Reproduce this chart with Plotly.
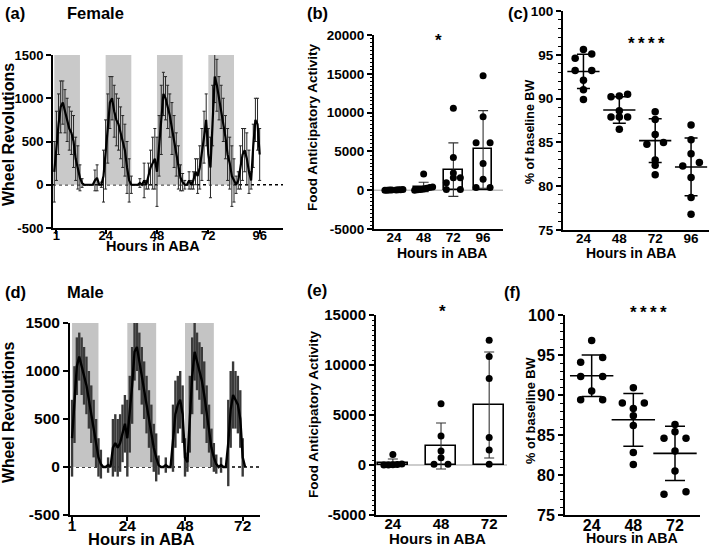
import plotly.graph_objects as go

# ---------------- data ----------------
# (a) Female wheel running, hourly mean and SD
fem_hours = list(range(0, 97))
fem_wheel_mean = [150, 450, 700, 900, 950, 850, 750, 650, 600, 500, 300, 200, 80, 20, 0, 0, 0, 0, 0, 50,
                  80, 0, 0, 100, 350, 650, 950, 1000, 850, 750, 700, 600, 500, 400, 200, 50, 0, 0, 0, 0,
                  20, 0, 50, 0, 100, 200, 250, 300, 150, 450, 750, 1050, 1000, 900, 800, 650, 500, 350, 200, 80,
                  30, 0, 0, 50, 0, 50, 150, 100, 200, 350, 550, 750, 350, 200, 800, 1250, 1150, 1000, 900, 750,
                  550, 350, 250, 100, 50, 0, 50, 200, 350, 400, 300, 150, 50, 450, 750, 700, 350]
fem_wheel_sd = [350, 400, 350, 300, 250, 250, 250, 250, 250, 300, 250, 250, 150, 50, 0, 0, 0, 0, 0, 120,
                150, 0, 30, 300, 400, 400, 300, 250, 300, 300, 300, 300, 300, 300, 300, 250, 100, 0, 0, 0,
                50, 0, 200, 50, 150, 200, 300, 350, 400, 350, 400, 250, 250, 250, 250, 300, 300, 250, 250, 150,
                100, 50, 0, 100, 50, 100, 150, 200, 250, 300, 300, 300, 300, 350, 350, 300, 300, 250, 250, 250,
                250, 300, 300, 350, 250, 100, 100, 250, 300, 250, 300, 250, 100, 250, 250, 300, 300]
fem_dark_start = [0, 24, 48, 72]
fem_dark_end = [12, 36, 60, 84]
fem_time_ticks = [1, 24, 48, 72, 96]

# (d) Male wheel running, hourly mean and SD
male_hours = list(range(1, 74))
male_wheel_mean = [300, 650, 1050, 1150, 1050, 950, 850, 700, 550, 400, 250, 100, 30, 0, 0, 20, 0, 200, 250, 200,
                   250, 350, 450, 300, 550, 850, 1200, 1250, 1100, 950, 800, 650, 500, 350, 200, 100, 20, 0, 0, 20,
                   0, 0, 300, 550, 650, 700, 550, 100, 50, 550, 950, 1200, 1100, 1000, 900, 750, 550, 400, 200, 100,
                   30, 0, 20, 0, 0, 250, 600, 750, 700, 650, 500, 100, 0]
male_wheel_sd = [400, 400, 300, 250, 300, 300, 300, 300, 300, 300, 250, 200, 150, 0, 0, 80, 0, 300, 300, 300,
                 300, 300, 300, 400, 400, 400, 300, 250, 300, 300, 300, 300, 300, 300, 250, 250, 100, 0, 0, 80,
                 0, 0, 350, 350, 300, 300, 300, 200, 100, 400, 400, 300, 300, 300, 350, 350, 300, 250, 200, 150,
                 100, 0, 80, 0, 0, 450, 400, 350, 300, 300, 300, 200, 0]
male_dark_start = [1, 24, 48]
male_dark_end = [12, 36, 60]
male_time_ticks = [1, 24, 48, 72]

wheel_ticks = [-500, 0, 500, 1000, 1500]

# (b) Female food anticipatory activity
fem_faa_cats = ["24", "48", "72", "96"]
fem_faa_points = [
    [0, 0, 10, 20, 30, 50, 60, 80],
    [0, 50, 100, 150, 250, 350, 400, 2100],
    [90, 90, 950, 1590, 1590, 2230, 4230, 10560],
    [350, 350, 1400, 3450, 6100, 6100, 9450, 14750],
]
fem_faa_mean = [30, 420, 2650, 5250]
fem_faa_sd = [40, 600, 3450, 5000]
fem_faa_ticks = [-5000, 0, 5000, 10000, 15000, 20000]

# (c) Female % of baseline BW
fem_bw_cats = ["24", "48", "72", "96"]
fem_bw_points = [
    [95.6, 95.1, 94.6, 93.2, 93.2, 92.1, 91.0, 89.9],
    [90.5, 90.3, 90.2, 88.6, 87.9, 87.9, 87.9, 86.5],
    [88.5, 87.6, 85.9, 85.0, 84.8, 83.0, 82.4, 81.3],
    [87.0, 85.3, 83.7, 82.7, 82.3, 81.0, 78.7, 76.8],
]
fem_bw_mean = [93.1, 88.7, 85.2, 82.2]
fem_bw_sd = [1.95, 1.5, 2.5, 3.3]
bw_ticks = [75, 80, 85, 90, 95, 100]

# (e) Male food anticipatory activity
male_faa_cats = ["24", "48", "72"]
male_faa_points = [
    [0, 0, 20, 50, 100, 1050],
    [70, 70, 730, 1400, 2900, 6130],
    [70, 1500, 2740, 8640, 10840, 12470],
]
male_faa_mean = [200, 1900, 6000]
male_faa_sd = [400, 2300, 5300]
male_faa_ticks = [-5000, 0, 5000, 10000, 15000]

# (f) Male % of baseline BW
male_bw_cats = ["24", "48", "72"]
male_bw_points = [
    [96.8, 94.7, 94.1, 92.3, 92.3, 90.5, 89.4, 89.4],
    [90.9, 89.0, 89.0, 88.3, 87.4, 86.2, 82.8, 81.3],
    [86.3, 85.4, 84.6, 84.6, 83.0, 80.5, 77.9, 77.6],
]
male_bw_mean = [92.4, 86.9, 82.7]
male_bw_sd = [2.6, 3.3, 3.4]

# ---------------- layout helpers ----------------
W, H = 709, 548
FONT = "Liberation Sans, Arial, sans-serif"


def dom_x(x0, x1):
    return [x0 / W, x1 / W]


def dom_y(top, bottom):
    return [1 - bottom / H, 1 - top / H]


# panel boxes in px: (left, right, top, bottom), and ranges
P = {
    "a": dict(box=(53, 283, 55, 228), xr=[-0.6, 106.9], yr=[-500, 1500]),
    "b": dict(box=(374, 503, 35, 229), xr=[-0.67, 3.67], yr=[-5000, 20000]),
    "c": dict(box=(563, 709, 11, 230), xr=[-0.57, 3.5], yr=[75, 100]),
    "d": dict(box=(70, 260, 323, 515), xr=[0.15, 79.2], yr=[-500, 1500]),
    "e": dict(box=(376, 507, 315, 515), xr=[-0.35, 2.37], yr=[-5000, 15000]),
    "f": dict(box=(565, 700, 315, 515), xr=[-0.64, 2.6], yr=[75, 100]),
}


def scales(key):
    l, r, t, b = P[key]["box"]
    xr, yr = P[key]["xr"], P[key]["yr"]
    return (r - l) / (xr[1] - xr[0]), (b - t) / (yr[1] - yr[0])


def swarm_offsets(vals, key, step_px, max_half_px, tol_px=5):
    px_cat, px_val = scales(key)
    order = sorted(range(len(vals)), key=lambda i: vals[i])
    rows = []
    for i in order:
        if rows and abs(vals[i] - vals[rows[-1][0]]) * px_val < tol_px:
            rows[-1].append(i)
        else:
            rows.append([i])
    offs = [0.0] * len(vals)
    for row in rows:
        k = len(row)
        slots = [0] if k % 2 else []
        for j in range(1, k // 2 + 1):
            slots += [-j, j]
        m = max(abs(s) for s in slots) * step_px
        sc = min(1.0, max_half_px / m) if m > 0 else 1.0
        for i, s in zip(row, sorted(slots)):
            offs[i] = s * step_px * sc / px_cat
    return offs


fig = go.Figure()

# ---- (a) female time course
fig.add_trace(go.Scatter(
    x=fem_hours, y=fem_wheel_mean, mode="lines", xaxis="x", yaxis="y",
    line=dict(color="black", width=2.2),
    error_y=dict(type="data", array=fem_wheel_sd, color="#262626", thickness=1, width=1.5),
    showlegend=False, hoverinfo="skip"))

# ---- (d) male time course
fig.add_trace(go.Scatter(
    x=male_hours, y=male_wheel_mean, mode="lines", xaxis="x4", yaxis="y4",
    line=dict(color="black", width=2.4),
    error_y=dict(type="data", array=male_wheel_sd, color="#3a3a3a", thickness=2.4, width=0),
    showlegend=False, hoverinfo="skip"))


# ---- bar + dots panels
def bar_panel(ax, key, cats, points, mean, sd, step_px, max_half):
    idx = list(range(len(cats)))
    fig.add_trace(go.Bar(
        x=idx, y=mean, width=0.62, xaxis="x" + ax, yaxis="y" + ax,
        marker=dict(color="white", line=dict(color="black", width=1.6)),
        error_y=dict(type="data", array=sd, color="#333333", thickness=1.1, width=5),
        showlegend=False, hoverinfo="skip"))
    for i, vals in enumerate(points):
        offs = swarm_offsets(vals, key, step_px, max_half)
        fig.add_trace(go.Scatter(
            x=[i + o for o in offs], y=vals, mode="markers", xaxis="x" + ax, yaxis="y" + ax,
            marker=dict(color="black", size=7), showlegend=False, hoverinfo="skip", cliponaxis=False))


def dot_panel(ax, key, cats, points, mean, sd, step_px, max_half, line_len, cap):
    idx = list(range(len(cats)))
    for i, vals in enumerate(points):
        offs = swarm_offsets(vals, key, step_px, max_half)
        fig.add_trace(go.Scatter(
            x=[i + o for o in offs], y=vals, mode="markers", xaxis="x" + ax, yaxis="y" + ax,
            marker=dict(color="black", size=7.5), showlegend=False, hoverinfo="skip", cliponaxis=False))
    fig.add_trace(go.Scatter(
        x=idx, y=mean, mode="markers", xaxis="x" + ax, yaxis="y" + ax,
        marker=dict(symbol="line-ew", size=line_len, color="black", line=dict(color="black", width=1.6)),
        error_y=dict(type="data", array=sd, color="black", thickness=1.5, width=cap),
        showlegend=False, hoverinfo="skip"))


bar_panel("2", "b", fem_faa_cats, fem_faa_points, fem_faa_mean, fem_faa_sd, 7, 9)
dot_panel("3", "c", fem_bw_cats, fem_bw_points, fem_bw_mean, fem_bw_sd, 8.3, 12, 23, 6.5)
bar_panel("5", "e", male_faa_cats, male_faa_points, male_faa_mean, male_faa_sd, 7, 9)
dot_panel("6", "f", male_bw_cats, male_bw_points, male_bw_mean, male_bw_sd, 11, 16, 31, 10)

# ---------------- axes ----------------
def axis(**kw):
    base = dict(showline=True, linecolor="black", linewidth=2, showgrid=False, zeroline=False,
                ticks="outside", tickcolor="black", ticklen=5, tickwidth=1.5, fixedrange=True,
                automargin=False)
    base.update(kw)
    return base


def tf(size):
    return dict(family=FONT, size=size, color="black", weight="bold")


layout = dict(width=W, height=H, margin=dict(l=0, r=0, t=0, b=0, pad=0, autoexpand=False), autosize=False,
              paper_bgcolor="white", plot_bgcolor="rgba(0,0,0,0)", showlegend=False,
              font=dict(family=FONT, color="black"), bargap=0)

for n, key in zip(["", "2", "3", "4", "5", "6"], ["a", "b", "c", "d", "e", "f"]):
    l, r, t, b = P[key]["box"]
    layout["xaxis" + n] = axis(domain=dom_x(l, r), range=P[key]["xr"], anchor="y" + n)
    layout["yaxis" + n] = axis(domain=dom_y(t, b), range=P[key]["yr"], anchor="x" + n)


def labels(v):
    return [str(t) for t in v]


# time course axes
layout["xaxis"].update(tickvals=fem_time_ticks, ticktext=labels(fem_time_ticks), tickfont=tf(13),
                       ticklen=4, ticklabelstandoff=-10)
layout["yaxis"].update(tickvals=wheel_ticks, ticktext=labels(wheel_ticks), tickfont=tf(13))
layout["xaxis4"].update(tickvals=male_time_ticks, ticktext=labels(male_time_ticks), tickfont=tf(15.5),
                        ticklen=4, ticklabelstandoff=-9)
layout["yaxis4"].update(tickvals=wheel_ticks, ticktext=labels(wheel_ticks), tickfont=tf(15.5))

# category axes
layout["xaxis2"].update(tickvals=list(range(len(fem_faa_cats))), ticktext=fem_faa_cats, ticks="",
                        tickfont=tf(13.5), ticklabelstandoff=-5)
layout["yaxis2"].update(tickvals=fem_faa_ticks, ticktext=labels(fem_faa_ticks), tickfont=tf(13.5),
                        minor=dict(ticks="outside", ticklen=2.5, tickwidth=1, tickcolor="black", dtick=500))
layout["xaxis3"].update(tickvals=list(range(len(fem_bw_cats))), ticktext=fem_bw_cats, ticks="",
                        tickfont=tf(13.5), ticklabelstandoff=-5)
layout["yaxis3"].update(tickvals=bw_ticks, ticktext=labels(bw_ticks), tickfont=tf(13.5),
                        minor=dict(ticks="outside", ticklen=3, tickwidth=1, tickcolor="black", dtick=1))
layout["xaxis5"].update(tickvals=list(range(len(male_faa_cats))), ticktext=male_faa_cats, ticks="",
                        tickfont=tf(15), ticklabelstandoff=-6)
layout["yaxis5"].update(tickvals=male_faa_ticks, ticktext=labels(male_faa_ticks), tickfont=tf(15),
                        minor=dict(ticks="outside", ticklen=2.5, tickwidth=1, tickcolor="black", dtick=500))
layout["xaxis6"].update(tickvals=list(range(len(male_bw_cats))), ticktext=male_bw_cats, ticks="",
                        tickfont=tf(16), ticklabelstandoff=-5)
layout["yaxis6"].update(tickvals=bw_ticks, ticktext=labels(bw_ticks), tickfont=tf(16),
                        minor=dict(ticks="outside", ticklen=3, tickwidth=1, tickcolor="black", dtick=1))

# ---------------- shapes ----------------
shapes = []
for s, e in zip(fem_dark_start, fem_dark_end):
    shapes.append(dict(type="rect", xref="x", yref="y", x0=s, x1=e, y0=0, y1=1500,
                       fillcolor="#c9c9c9", line=dict(width=0), layer="below"))
for s, e in zip(male_dark_start, male_dark_end):
    shapes.append(dict(type="rect", xref="x4", yref="y4", x0=s, x1=e, y0=0, y1=1500,
                       fillcolor="#c4c4c4", line=dict(width=0), layer="below"))
for ax in ["", "4"]:
    shapes.append(dict(type="line", xref="x%s domain" % ax, yref="y" + ax, x0=0, x1=1, y0=0, y1=0,
                       line=dict(color="black", width=1.6, dash="dot"), layer="below"))
for ax in ["2", "5"]:
    shapes.append(dict(type="line", xref="x%s domain" % ax, yref="y" + ax, x0=0, x1=1, y0=0, y1=0,
                       line=dict(color="#bdbdbd", width=1.5), layer="below"))
layout["shapes"] = shapes

# ---------------- text ----------------
def ann(text, x, y, size, angle=0, xanchor="center"):
    return dict(text="<b>%s</b>" % text, x=x / W, y=1 - y / H, xref="paper", yref="paper",
                showarrow=False, textangle=angle, xanchor=xanchor, yanchor="middle",
                font=dict(family=FONT, size=size, color="black"))


anns = [
    ann("(a)", 3, 13, 16.5, xanchor="left"), ann("Female", 65, 13, 16.5, xanchor="left"),
    ann("(b)", 305, 13, 16.5, xanchor="left"), ann("(c)", 506, 13, 16.5, xanchor="left"),
    ann("(d)", 3, 292, 16.5, xanchor="left"), ann("Male", 65, 292, 16.5, xanchor="left"),
    ann("(e)", 305, 290, 16.5, xanchor="left"), ann("(f)", 502, 292, 16.5, xanchor="left"),
    ann("Wheel Revolutions", 8, 135, 16, angle=-90),
    ann("Hours in ABA", 153, 246, 14.5),
    ann("Food Anticipatory Activity", 313, 127, 13.5, angle=-90),
    ann("Hours in ABA", 442, 253, 14),
    ann("% of baseline BW", 530, 132, 12.5, angle=-90),
    ann("Hours in ABA", 631, 253, 14),
    ann("Wheel Revolutions", 8, 412, 15.8, angle=-90),
    ann("Hours in ABA", 141, 539, 16.5),
    ann("Food Anticipatory Activity", 313, 414, 13.5, angle=-90),
    ann("Hours in ABA", 437, 538, 15),
    ann("% of baseline BW", 530, 410, 12.8, angle=-90),
    ann("Hours in ABA", 632, 538, 14.2),
    # significance marks
    ann("*", 438, 41, 17), ann("*\u2009*\u2009*\u2009*", 646, 43, 17),
    ann("*", 442, 311, 17), ann("*\u2009*\u2009*\u2009*", 648, 312, 17),
]
layout["annotations"] = anns

fig.update_layout(**layout)
fig.write_html("out.html", config={"displayModeBar": False},
               post_script="document.body.style.margin='0px';document.body.style.overflow='hidden';")
